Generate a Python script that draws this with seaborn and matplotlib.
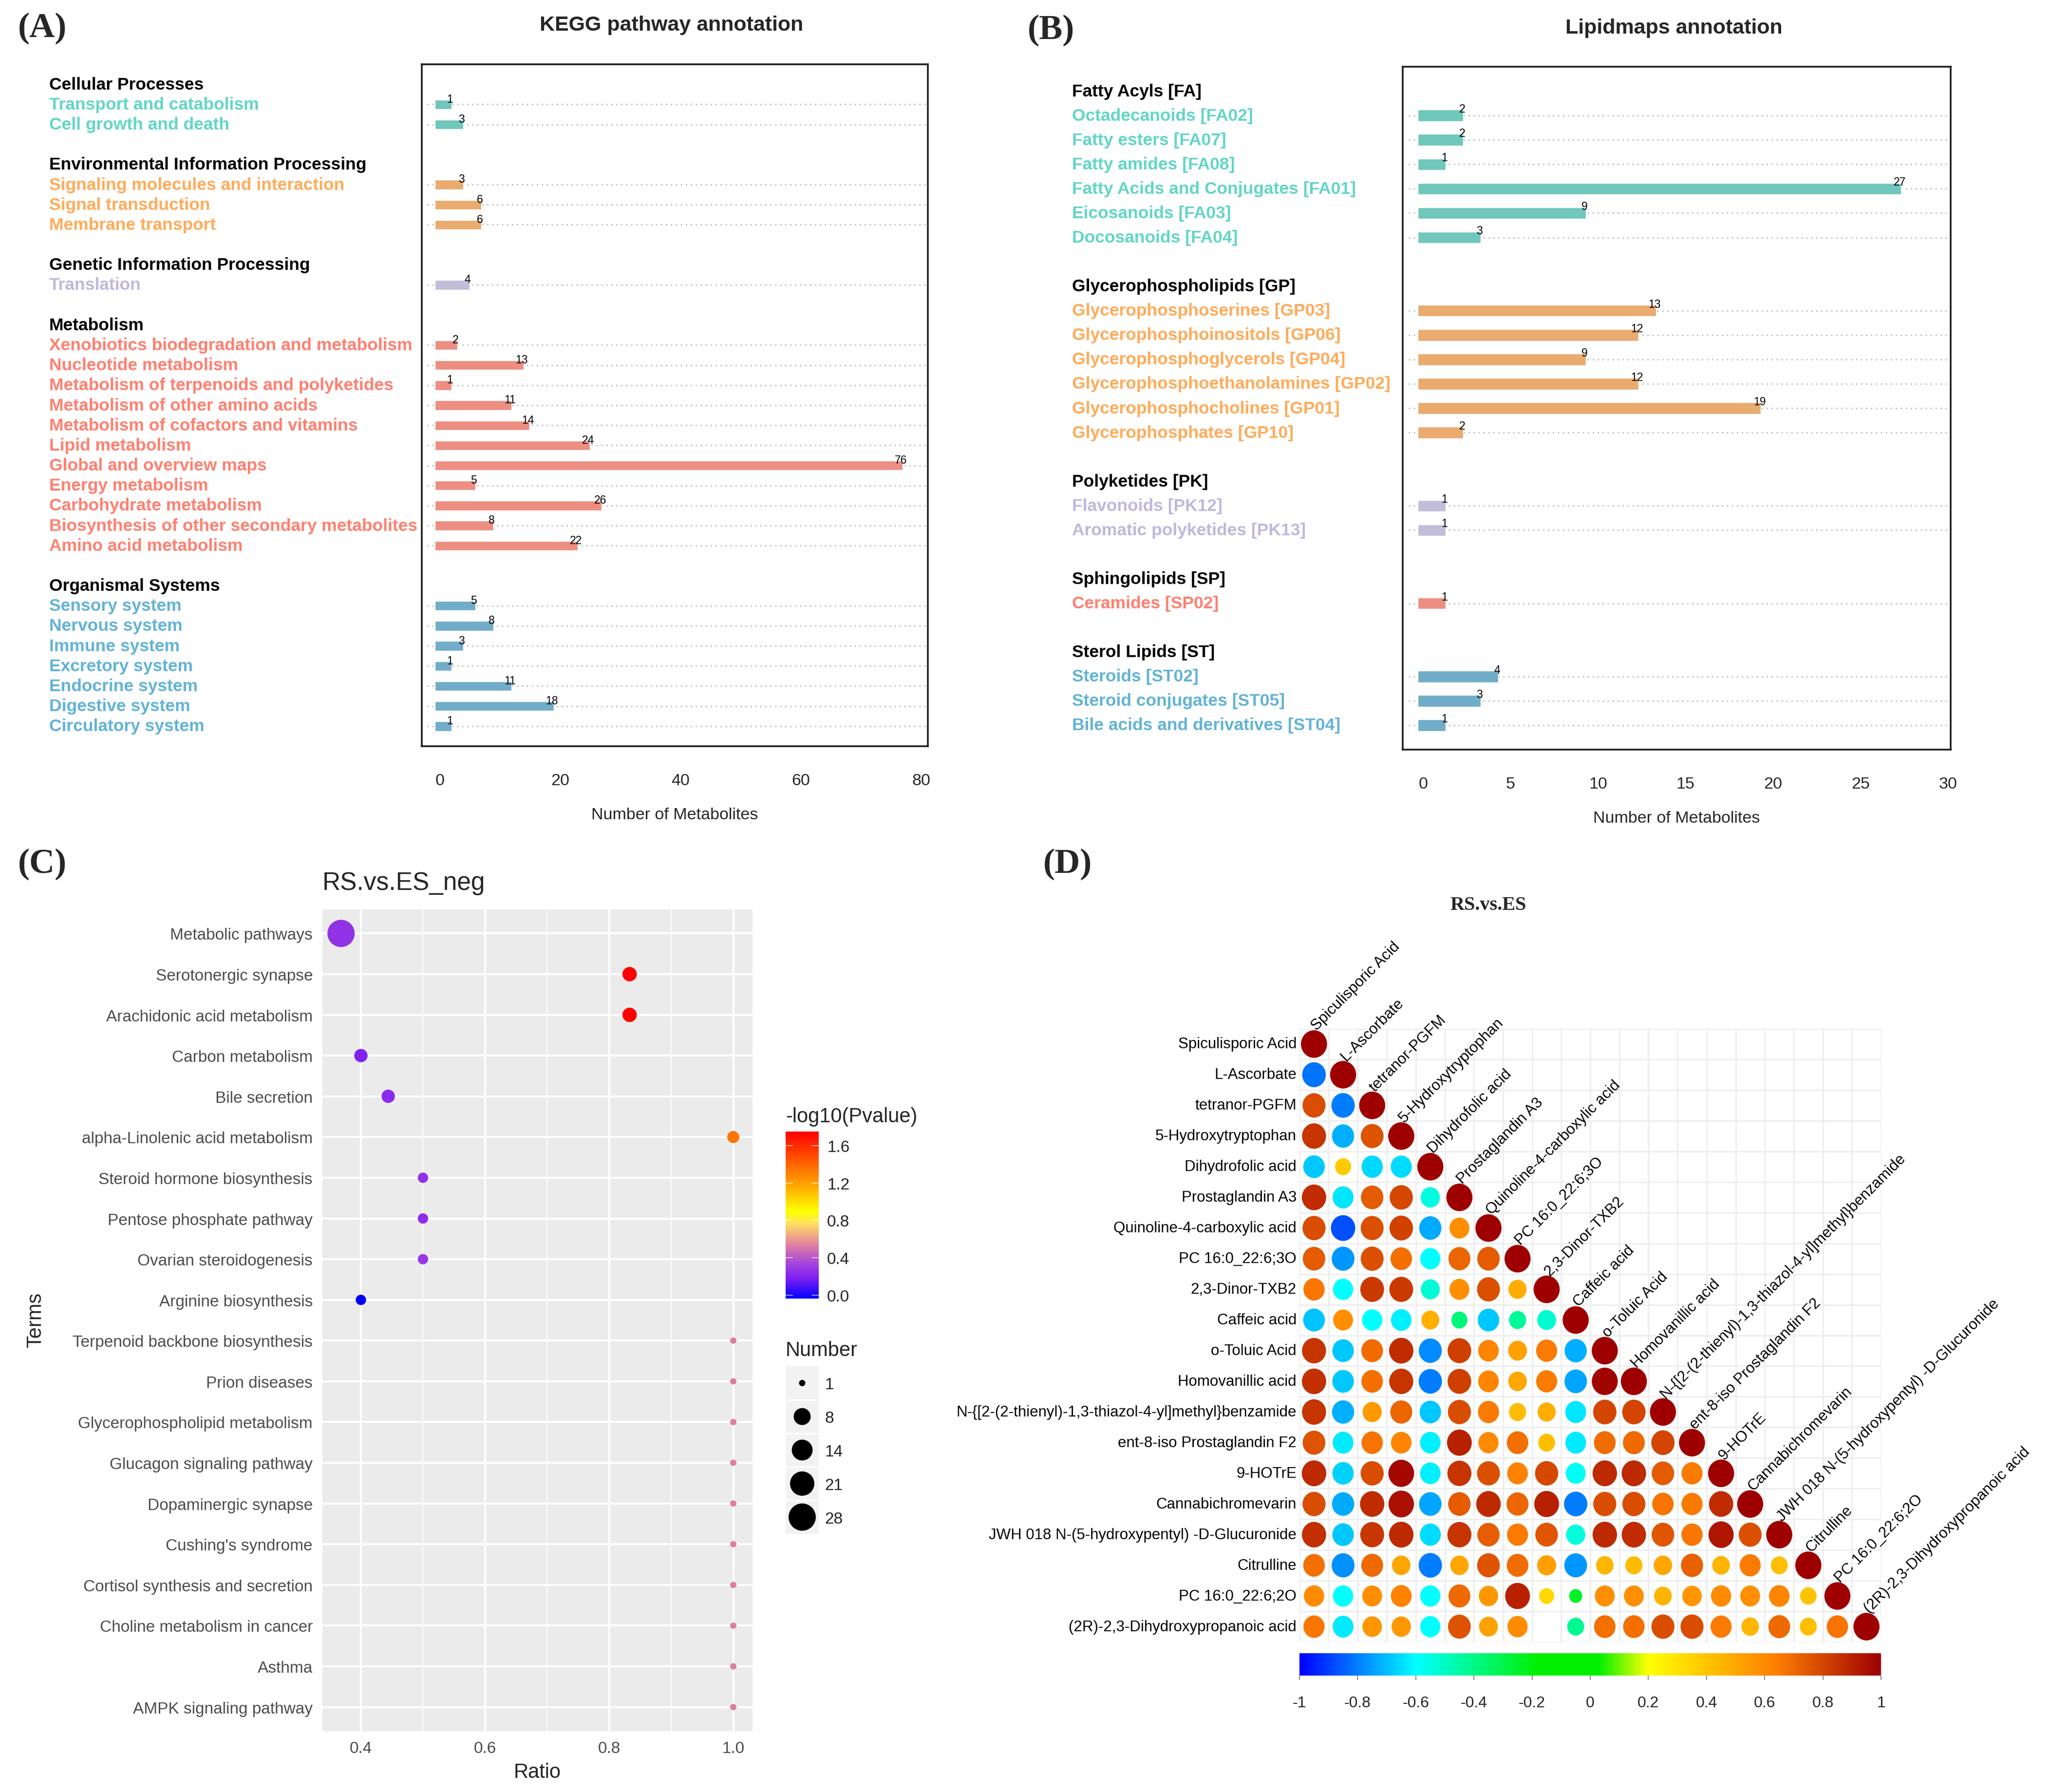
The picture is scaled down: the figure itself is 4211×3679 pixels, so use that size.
#!/usr/bin/env python3
"""Metabolite annotation panels, enrichment bubble plot and correlation plot."""

import numpy as np
import pandas as pd
import matplotlib
matplotlib.use('Agg')
import matplotlib.pyplot as plt
import seaborn as sns
from matplotlib.cm import ScalarMappable
from matplotlib.colors import LinearSegmentedColormap, Normalize
from matplotlib.markers import MarkerStyle
from matplotlib.path import Path
from matplotlib.transforms import Affine2D, blended_transform_factory

# panel A
kegg_groups = ['Cellular Processes', 'Environmental Information Processing',
               'Genetic Information Processing', 'Metabolism', 'Organismal Systems']
kegg_terms = [
    ['Transport and catabolism', 'Cell growth and death'],
    ['Signaling molecules and interaction', 'Signal transduction', 'Membrane transport'],
    ['Translation'],
    ['Xenobiotics biodegradation and metabolism', 'Nucleotide metabolism',
     'Metabolism of terpenoids and polyketides', 'Metabolism of other amino acids',
     'Metabolism of cofactors and vitamins', 'Lipid metabolism', 'Global and overview maps',
     'Energy metabolism', 'Carbohydrate metabolism',
     'Biosynthesis of other secondary metabolites', 'Amino acid metabolism'],
    ['Sensory system', 'Nervous system', 'Immune system', 'Excretory system',
     'Endocrine system', 'Digestive system', 'Circulatory system'],
]
kegg_counts = [[1, 3], [3, 6, 6], [4], [2, 13, 1, 11, 14, 24, 76, 5, 26, 8, 22],
               [5, 8, 3, 1, 11, 18, 1]]

# panel B
lipid_groups = ['Fatty Acyls [FA]', 'Glycerophospholipids [GP]', 'Polyketides [PK]',
                'Sphingolipids [SP]', 'Sterol Lipids [ST]']
lipid_terms = [
    ['Octadecanoids [FA02]', 'Fatty esters [FA07]', 'Fatty amides [FA08]',
     'Fatty Acids and Conjugates [FA01]', 'Eicosanoids [FA03]', 'Docosanoids [FA04]'],
    ['Glycerophosphoserines [GP03]', 'Glycerophosphoinositols [GP06]',
     'Glycerophosphoglycerols [GP04]', 'Glycerophosphoethanolamines [GP02]',
     'Glycerophosphocholines [GP01]', 'Glycerophosphates [GP10]'],
    ['Flavonoids [PK12]', 'Aromatic polyketides [PK13]'],
    ['Ceramides [SP02]'],
    ['Steroids [ST02]', 'Steroid conjugates [ST05]', 'Bile acids and derivatives [ST04]'],
]
lipid_counts = [[2, 2, 1, 27, 9, 3], [13, 12, 9, 12, 19, 2], [1, 1], [1], [4, 3, 1]]

# panel C
pathway_terms = ['Metabolic pathways', 'Serotonergic synapse', 'Arachidonic acid metabolism',
                 'Carbon metabolism', 'Bile secretion', 'alpha-Linolenic acid metabolism',
                 'Steroid hormone biosynthesis', 'Pentose phosphate pathway',
                 'Ovarian steroidogenesis', 'Arginine biosynthesis',
                 'Terpenoid backbone biosynthesis', 'Prion diseases',
                 'Glycerophospholipid metabolism', 'Glucagon signaling pathway',
                 'Dopaminergic synapse', "Cushing's syndrome",
                 'Cortisol synthesis and secretion', 'Choline metabolism in cancer',
                 'Asthma', 'AMPK signaling pathway']
pathway_ratio = [0.368, 0.833, 0.833, 0.4, 0.444, 1.0, 0.5, 0.5, 0.5, 0.4,
                 1.0, 1.0, 1.0, 1.0, 1.0, 1.0, 1.0, 1.0, 1.0, 1.0]
pathway_number = [28, 5, 5, 4, 4, 3, 2, 2, 2, 2, 1, 1, 1, 1, 1, 1, 1, 1, 1, 1]
pathway_logp = [0.29, 1.75, 1.75, 0.22, 0.26, 1.35, 0.3, 0.27, 0.32, 0.0,
                0.55, 0.55, 0.55, 0.55, 0.55, 0.55, 0.55, 0.55, 0.55, 0.55]
number_legend = [1, 8, 14, 21, 28]

# panel D
metabolites = ['Spiculisporic Acid', 'L-Ascorbate', 'tetranor-PGFM', '5-Hydroxytryptophan',
               'Dihydrofolic acid', 'Prostaglandin A3', 'Quinoline-4-carboxylic acid',
               'PC 16:0_22:6;3O', '2,3-Dinor-TXB2', 'Caffeic acid', 'o-Toluic Acid',
               'Homovanillic acid', 'N-{[2-(2-thienyl)-1,3-thiazol-4-yl]methyl}benzamide',
               'ent-8-iso Prostaglandin F2', '9-HOTrE', 'Cannabichromevarin',
               'JWH 018 N-(5-hydroxypentyl) -D-Glucuronide', 'Citrulline', 'PC 16:0_22:6;2O',
               '(2R)-2,3-Dihydroxypropanoic acid']
corr_rows = [
    [1],
    [-.82, 1],
    [.78, -.8, 1],
    [.85, -.72, .76, 1],
    [-.68, .38, -.66, -.65, 1],
    [.87, -.64, .74, .79, -.55, 1],
    [.78, -.87, .77, .81, -.73, .58, 1],
    [.74, -.76, .77, .68, -.6, .71, .74, 1],
    [.66, -.6, .83, .83, -.53, .58, .77, .48, 1],
    [-.69, .58, -.6, -.62, .47, -.38, -.68, -.43, -.52, 1],
    [.85, -.68, .69, .87, -.78, .82, .62, .52, .65, -.72, 1],
    [.86, -.68, .68, .85, -.8, .82, .62, .5, .65, -.74, .99, 1],
    [.85, -.72, .54, .71, -.68, .78, .65, .43, .48, -.64, .8, .8, 1],
    [.76, -.63, .67, .62, -.62, .9, .6, .68, .42, -.63, .69, .7, .8, 1],
    [.88, -.67, .78, .97, -.62, .85, .77, .63, .79, -.58, .88, .88, .74, .65, 1],
    [.78, -.73, .87, .95, -.74, .74, .88, .71, .9, -.8, .78, .78, .67, .65, .87, 1],
    [.86, -.68, .84, .88, -.65, .85, .73, .65, .75, -.54, .88, .87, .75, .66, .93, .77, 1],
    [.68, -.77, .7, .5, -.8, .5, .76, .69, .53, -.76, .45, .43, .5, .72, .46, .65, .42, 1],
    [.6, -.6, .58, .63, -.6, .7, .55, .9, .33, -.25, .58, .58, .46, .56, .6, .58, .62, .4, 1],
    [.66, -.63, .56, .55, -.6, .76, .52, .6, 0, -.42, .68, .68, .78, .78, .65, .45, .7, .42, .67, 1],
]

WIDTH, HEIGHT = 4211, 3680
SANS = 'Liberation Sans'
SERIF = 'Liberation Serif'
GROUP_COLORS = ['#62D5C6', '#FFAB5A', '#BFB8DD', '#FF8070', '#62B3D6']


def pt(px):
    return px * 72 / 100


def add_axes(fig, left, top, right, bottom):
    """Axes from pixel edges of the final image."""
    return fig.add_axes([left / WIDTH, 1 - bottom / HEIGHT,
                         (right - left) / WIDTH, (bottom - top) / HEIGHT])


def fig_text(fig, x, y, s, **kws):
    kws.setdefault('family', SANS)
    return fig.text(x / WIDTH, 1 - y / HEIGHT, s, **kws)


def annotation_panel(fig, box, groups, terms, counts, xlim, xticks, bar_left, pad, label_x,
                     title_pos, xlabel_pos, ticklabel_pad):
    ax = add_axes(fig, *box)
    records, headers = [], []
    row = 0
    for i, group in enumerate(groups):
        headers.append((row, group))
        for term, count in zip(terms[i], counts[i]):
            row += 1
            records.append({'row': row, 'term': term, 'count': count, 'group': group,
                            'length': count + pad})
        row += 2
    last_row = row - 2
    df = pd.DataFrame(records)

    ax.hlines(df['row'], xlim[0] + (bar_left - xlim[0]) * 0.4, xlim[1], color='#c4c4c4',
              linestyle=(0, (1, 2.4)), lw=pt(3), zorder=1)
    sns.barplot(data=df, x='length', y='row', hue='group', orient='y', native_scale=True,
                palette=dict(zip(groups, GROUP_COLORS)), dodge=False, width=0.47,
                left=bar_left, legend=False, ax=ax, zorder=3)
    ax.set_xlim(*xlim)
    ax.set_ylim(last_row + 1, -1)
    ax.set_yticks([])
    ax.set_xticks(xticks)
    ax.set_xlabel('')
    ax.set_ylabel('')
    ax.tick_params(axis='x', length=pt(21), width=pt(3), color='#222222', labelsize=24.5,
                   pad=ticklabel_pad, labelfontfamily=SANS)
    for spine in ax.spines.values():
        spine.set_visible(True)
        spine.set_linewidth(pt(3.5))
        spine.set_color('#1a1a1a')

    trans = blended_transform_factory(fig.transFigure, ax.transData)
    for row_i, group in headers:
        ax.text(label_x / WIDTH, row_i, group, transform=trans, family=SANS, weight='bold',
                fontsize=25.5, va='center', ha='left', color='black')
    color_of = dict(zip(groups, GROUP_COLORS))
    for _, rec in df.iterrows():
        ax.text(label_x / WIDTH, rec['row'], rec['term'], transform=trans, family=SANS,
                weight='bold', fontsize=25.5, va='center', ha='left', color=color_of[rec['group']])
        ax.text(rec['count'] + (xlim[1] - xlim[0]) * 0.0075 + 0.0, rec['row'] - 0.27,
                str(rec['count']), family=SANS, fontsize=16.5, ha='center', va='center',
                color='black', zorder=5)
    fig_text(fig, *title_pos[0], title_pos[1], weight='bold', fontsize=31, ha='center', va='center')
    fig_text(fig, *xlabel_pos, 'Number of Metabolites', fontsize=24.5, ha='center', va='center')
    return ax


def pathway_panel(fig):
    ax = add_axes(fig, 662, 1868, 1545, 3555)
    df = pd.DataFrame({'term': pathway_terms, 'ratio': pathway_ratio,
                       'number': pathway_number, 'logp': pathway_logp})
    # ggplot area scale: diameter grows with sqrt of the rescaled number
    diam = lambda n: 13 + 43 * np.sqrt((n - 1) / 27)
    sizes = {n: pt(diam(n)) ** 2 for n in set(pathway_number) | set(number_legend)}
    cmap = LinearSegmentedColormap.from_list('pval', [
        (0.0, '#0000FF'), (0.12, '#7F20F0'), (0.2, '#A040E0'), (0.32, '#E080A0'),
        (0.45, '#FFE060'), (0.52, '#FFFF00'), (0.72, '#FF9000'), (1.0, '#FF0000')])
    ax.set_facecolor('#EBEBEB')
    ax.grid(True, which='major', color='white', lw=pt(4), zorder=0)
    ax.set_axisbelow(True)
    for x_minor in [0.5, 0.7, 0.9]:
        ax.axvline(x_minor, color='white', lw=pt(2), zorder=0)
    sns.scatterplot(data=df, x='ratio', y='term', hue='logp', palette=cmap, hue_norm=(0, 1.75),
                    size='number', sizes=sizes, legend=False, linewidth=0, ax=ax, zorder=3)
    ax.set_xlim(0.338, 1.031)
    ax.set_ylim(19.59, -0.59)
    ax.set_xticks([0.4, 0.6, 0.8, 1.0])
    ax.set_xlabel('')
    ax.set_ylabel('')
    ax.tick_params(axis='both', length=pt(11), width=pt(3), color='#333333', labelcolor='#4D4D4D',
                   labelsize=24, pad=pt(9), labelfontfamily=SANS)
    for spine in ax.spines.values():
        spine.set_visible(False)
    fig_text(fig, 662, 1814, 'RS.vs.ES_neg', fontsize=37, ha='left', va='center')
    fig_text(fig, 1103, 3639, 'Ratio', fontsize=30, ha='center', va='center')
    fig_text(fig, 73, 2710, 'Terms', fontsize=30, ha='center', va='center', rotation=90)

    # colour legend
    fig_text(fig, 1613, 2293, '-log10(Pvalue)', fontsize=30, ha='left', va='center')
    cax = add_axes(fig, 1613, 2324, 1681, 2667)
    cb = fig.colorbar(ScalarMappable(norm=Normalize(-0.036, 1.75), cmap=cmap), cax=cax)
    cb.set_ticks([0.0, 0.4, 0.8, 1.2, 1.6])
    cb.outline.set_visible(False)
    cax.tick_params(axis='y', length=0, labelsize=24, pad=pt(17), labelfontfamily=SANS)
    for v in [0.0, 0.4, 0.8, 1.2, 1.6]:
        cax.plot([0, 0.2], [v, v], color='white', lw=pt(2), alpha=0.6, transform=cax.get_yaxis_transform())
        cax.plot([0.8, 1], [v, v], color='white', lw=pt(2), alpha=0.6, transform=cax.get_yaxis_transform())

    # size legend
    fig_text(fig, 1613, 2773, 'Number', fontsize=30, ha='left', va='center')
    lax = add_axes(fig, 1613, 2806, 1681, 3150)
    lax.set_facecolor('#F2F2F2')
    leg = pd.DataFrame({'x': [0] * len(number_legend), 'y': range(len(number_legend)),
                        'number': number_legend})
    sns.scatterplot(data=leg, x='x', y='y', size='number', sizes=sizes, color='black', linewidth=0,
                    legend=False, ax=lax, zorder=3)
    lax.set_xlim(-0.5, 0.5)
    lax.set_ylim(4.5, -0.5)
    lax.set_xticks([])
    lax.set_yticks(range(len(number_legend)))
    lax.set_yticklabels([str(n) for n in number_legend])
    lax.yaxis.tick_right()
    lax.tick_params(axis='y', length=0, labelsize=24, pad=pt(12), labelfontfamily=SANS)
    lax.set_xlabel('')
    lax.set_ylabel('')
    for y in np.arange(0.5, 4.5):
        lax.axhline(y, color='white', lw=pt(3))
    for spine in lax.spines.values():
        spine.set_visible(False)


def corr_panel(fig):
    n = len(metabolites)
    ax = add_axes(fig, 2668, 2113, 3862, 3372)
    corr = np.full((n, n), np.nan)
    for i, vals in enumerate(corr_rows):
        corr[i, :len(vals)] = vals
    cmap = LinearSegmentedColormap.from_list('corr', [
        (0.0, '#0000FF'), (0.2, '#00FFFF'), (0.41, '#00F000'), (0.515, '#00F000'),
        (0.6, '#FFFF00'), (0.82, '#FF7F00'), (1.0, '#9E0000')])

    sns.heatmap(np.where(np.isnan(corr), np.nan, 0.0), mask=np.isnan(corr), cmap=['white'], cbar=False,
                linewidths=pt(3), linecolor='#EEEEEE', square=False, ax=ax,
                xticklabels=False, yticklabels=False)
    rows, cols = np.where(~np.isnan(corr))
    df = pd.DataFrame({'x': cols + 0.5, 'y': rows + 0.5, 'r': corr[rows, cols]})
    df['size'] = df['r'].abs()
    # cells are a little taller than wide, the circles follow them
    ellipse = MarkerStyle(Path.unit_circle().transformed(Affine2D().scale(0.945, 1)))
    full = pt(0.9 * 63) ** 2
    sns.scatterplot(data=df, x='x', y='y', hue='r', palette=cmap, hue_norm=(-1, 1), size='size',
                    sizes=(0, full), size_norm=(0, 1), marker=ellipse, linewidth=0, legend=False,
                    ax=ax, zorder=3)
    ax.set_xlim(0, n)
    ax.set_ylim(n, 0)
    ax.set_xlabel('')
    ax.set_ylabel('')
    for i, name in enumerate(metabolites):
        ax.text(-0.1, i + 0.5, name, family=SANS, fontsize=22.5, ha='right', va='center',
                color='black', clip_on=False)
        ax.text(i + 0.5, i - 0.02, name, family=SANS, fontsize=22.5, ha='left', va='center', rotation=45,
                rotation_mode='anchor', color='black', clip_on=False)

    fig_text(fig, 3056, 1858, 'RS.vs.ES', family=SERIF, weight='bold', fontsize=29, ha='center', va='center')
    cax = add_axes(fig, 2668, 3395, 3862, 3441)
    cb = fig.colorbar(ScalarMappable(norm=Normalize(-1, 1), cmap=cmap), cax=cax, orientation='horizontal')
    cb.set_ticks(np.arange(-1, 1.01, 0.2))
    cb.set_ticklabels(['-1', '-0.8', '-0.6', '-0.4', '-0.2', '0', '0.2', '0.4', '0.6', '0.8', '1'])
    cb.outline.set_visible(False)
    cax.tick_params(axis='x', length=pt(9), width=pt(2), color='#888888', labelsize=23, pad=pt(32),
                    labelfontfamily=SANS)


def main():
    sns.set_theme(style='white')
    plt.rcParams['font.family'] = [SANS, 'DejaVu Sans']
    fig = plt.figure(figsize=(WIDTH / 100, HEIGHT / 100), dpi=100, facecolor='white')

    annotation_panel(fig, (866, 133, 1905, 1533), kegg_groups, kegg_terms, kegg_counts,
                     (-3.0, 81.1), [0, 20, 40, 60, 80], -0.8, 1.7, 101,
                     ((1379, 52), 'KEGG pathway annotation'), (1385, 1674), pt(34))
    annotation_panel(fig, (2880, 138, 4005, 1540), lipid_groups, lipid_terms, lipid_counts,
                     (-1.16, 30.15), [0, 5, 10, 15, 20, 25, 30], -0.3, 0.6, 2201,
                     ((3437, 58), 'Lipidmaps annotation'), (3442, 1681), pt(34))
    pathway_panel(fig)
    corr_panel(fig)

    for x, y, letter in [(87, 58, '(A)'), (2158, 62, '(B)'), (87, 1774, '(C)'), (2192, 1774, '(D)')]:
        fig_text(fig, x, y, letter, family=SERIF, weight='bold', fontsize=52, ha='center', va='center')

    fig.savefig('out.png', dpi=100, facecolor='white')


if __name__ == '__main__':
    main()
